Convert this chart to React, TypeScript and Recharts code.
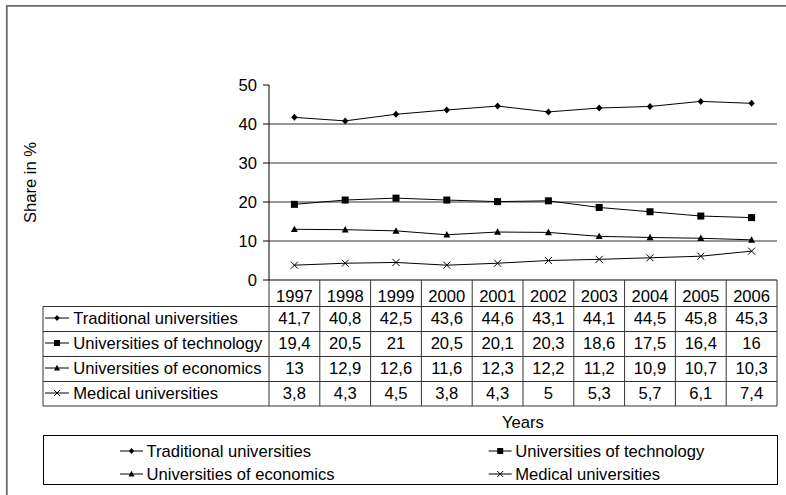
import React from "react";
import { LineChart, Line, XAxis, YAxis, CartesianGrid } from "recharts";

// values
const YEARS = ["1997", "1998", "1999", "2000", "2001", "2002", "2003", "2004", "2005", "2006"];
const TRADITIONAL = [41.7, 40.8, 42.5, 43.6, 44.6, 43.1, 44.1, 44.5, 45.8, 45.3];
const TECHNOLOGY = [19.4, 20.5, 21, 20.5, 20.1, 20.3, 18.6, 17.5, 16.4, 16];
const ECONOMICS = [13, 12.9, 12.6, 11.6, 12.3, 12.2, 11.2, 10.9, 10.7, 10.3];
const MEDICAL = [3.8, 4.3, 4.5, 3.8, 4.3, 5, 5.3, 5.7, 6.1, 7.4];
const Y_TICKS = [0, 10, 20, 30, 40, 50];
const GRID_VALUES = [10, 20, 30, 40];

type Kind = "diamond" | "square" | "triangle" | "cross";

const SERIES: { key: string; name: string; kind: Kind; values: number[] }[] = [
    { key: "traditional", name: "Traditional universities", kind: "diamond", values: TRADITIONAL },
    { key: "technology", name: "Universities of technology", kind: "square", values: TECHNOLOGY },
    { key: "economics", name: "Universities of economics", kind: "triangle", values: ECONOMICS },
    { key: "medical", name: "Medical universities", kind: "cross", values: MEDICAL },
];

const data = YEARS.map((year, i) => {
    const row: Record<string, string | number> = { year };
    SERIES.forEach((s) => (row[s.key] = s.values[i]));
    return row;
});

const W = 786;
const H = 495;
const PLOT_L = 269;
const PLOT_R = 777;
const PLOT_T = 85;
const PLOT_B = 280;
const COL_W = (PLOT_R - PLOT_L) / YEARS.length;
const TABLE_L = 43;
const ROW_TOPS = [306.5, 331.5, 356.5, 381.5];
const TABLE_B = 406;
const FONT = '"Liberation Sans", Arial, sans-serif';
const FS = 16.6;

const fmt = (v: number) => String(v).replace(".", ",");

function Marker({ kind, cx, cy, s }: { kind: Kind; cx: number; cy: number; s: number }) {
    const h = s / 2;
    if (kind === "diamond")
        return <polygon points={`${cx},${cy - h} ${cx + h * 0.9},${cy} ${cx},${cy + h} ${cx - h * 0.9},${cy}`} fill="#000" />;
    if (kind === "square") return <rect x={cx - h} y={cy - h} width={s} height={s} fill="#000" />;
    if (kind === "triangle")
        return <polygon points={`${cx},${cy - h * 1.05} ${cx + h},${cy + h * 0.8} ${cx - h},${cy + h * 0.8}`} fill="#000" />;
    return (
        <g stroke="#000" strokeWidth={1}>
            <line x1={cx - h} y1={cy - h} x2={cx + h} y2={cy + h} />
            <line x1={cx - h} y1={cy + h} x2={cx + h} y2={cy - h} />
        </g>
    );
}

function LegendKey({ kind, x, cy, len }: { kind: Kind; x: number; cy: number; len: number }) {
    return (
        <g>
            <line x1={x} y1={cy} x2={x + len} y2={cy} stroke="#000" strokeWidth={1} />
            <Marker kind={kind} cx={x + len / 2} cy={cy} s={6} />
        </g>
    );
}

// each x tick draws its own table column; the first one also draws the row headers
function TableTick(props: any) {
    const { x, payload, index } = props;
    const left = x - COL_W / 2;
    const right = x + COL_W / 2;
    return (
        <g fontFamily={FONT} fontSize={FS} fill="#000">
            {index === 0 && (
                <g>
                    {[...ROW_TOPS, TABLE_B].map((y) => (
                        <line key={y} x1={TABLE_L} y1={y} x2={PLOT_R} y2={y} stroke="#333" strokeWidth={1} />
                    ))}
                    <line x1={TABLE_L} y1={ROW_TOPS[0]} x2={TABLE_L} y2={TABLE_B} stroke="#333" strokeWidth={1} />
                    {SERIES.map((s, r) => (
                        <g key={s.key}>
                            <LegendKey kind={s.kind} x={45} cy={ROW_TOPS[r] + 11.5} len={24} />
                            <text x={73.3} y={ROW_TOPS[r] + 17.5} fill="#000">
                                {s.name}
                            </text>
                        </g>
                    ))}
                </g>
            )}
            <line x1={left} y1={PLOT_B} x2={left} y2={TABLE_B} stroke="#333" strokeWidth={1} />
            {index === YEARS.length - 1 && (
                <line x1={right} y1={PLOT_B} x2={right} y2={TABLE_B} stroke="#333" strokeWidth={1} />
            )}
            <text x={x} y={302} textAnchor="middle" fill="#000">
                {payload.value}
            </text>
            {SERIES.map((s, r) => (
                <text key={s.key} x={x} y={ROW_TOPS[r] + 17.5} textAnchor="middle" fill="#000">
                    {fmt(s.values[index])}
                </text>
            ))}
        </g>
    );
}

export default function App() {
    const legendRows = [
        { s: SERIES[0], x: 120, base: 456.5 },
        { s: SERIES[1], x: 488.7, base: 456.5 },
        { s: SERIES[2], x: 120, base: 479.5 },
        { s: SERIES[3], x: 488.7, base: 479.5 },
    ];

    return (
        <div style={{ position: "absolute", left: 0, top: 0, width: W, height: H, background: "#fff", overflow: "hidden" }}>
            <LineChart
                width={W}
                height={H}
                data={data}
                margin={{ top: PLOT_T, right: W - PLOT_R, bottom: 0, left: 0 }}
            >
                <CartesianGrid
                    vertical={false}
                    horizontalValues={GRID_VALUES}
                    stroke="#333"
                    strokeWidth={1}
                />
                <XAxis
                    dataKey="year"
                    height={H - PLOT_B}
                    interval={0}
                    tickLine={false}
                    axisLine={{ stroke: "#000", strokeWidth: 1 }}
                    padding={{ left: COL_W / 2, right: COL_W / 2 }}
                    tick={<TableTick />}
                />
                <YAxis
                    width={PLOT_L}
                    domain={[0, 50]}
                    ticks={Y_TICKS}
                    tickSize={6}
                    tickMargin={6}
                    axisLine={{ stroke: "#000", strokeWidth: 1 }}
                    tickLine={{ stroke: "#000", strokeWidth: 1 }}
                    tick={{ fill: "#000", fontSize: FS, fontFamily: FONT }}
                />
                {SERIES.map((s) => (
                    <Line
                        key={s.key}
                        type="linear"
                        dataKey={s.key}
                        name={s.name}
                        stroke="#000"
                        strokeWidth={1}
                        isAnimationActive={false}
                        dot={(p: any) => <Marker key={`${s.key}-${p.index}`} kind={s.kind} cx={p.cx} cy={p.cy} s={7} />}
                        activeDot={false}
                    />
                ))}
            </LineChart>
            <svg
                width={W}
                height={H}
                style={{ position: "absolute", left: 0, top: 0, pointerEvents: "none" }}
                fontFamily={FONT}
                fontSize={FS}
            >
                <path d={`M6.8 ${H} L6.8 5.8 L${W} 5.8`} fill="none" stroke="#6b6b6b" strokeWidth={1.8} />
                <text x={30} y={182.5} textAnchor="middle" dominantBaseline="central" transform="rotate(-90 30 182.5)">
                    Share in %
                </text>
                <text x={(PLOT_L + PLOT_R) / 2} y={428} textAnchor="middle">
                    Years
                </text>
                <rect x={43.5} y={435.5} width={734} height={49} fill="none" stroke="#000" strokeWidth={1} />
                {legendRows.map(({ s, x, base }) => (
                    <g key={s.key}>
                        <LegendKey kind={s.kind} x={x} cy={base - 5.5} len={23} />
                        <text x={x + 26.5} y={base}>
                            {s.name}
                        </text>
                    </g>
                ))}
            </svg>
        </div>
    );
}
